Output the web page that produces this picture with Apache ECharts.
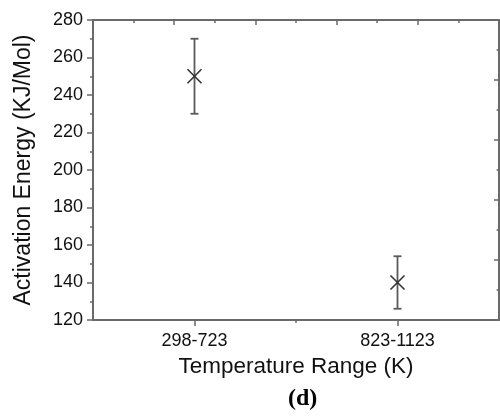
<!DOCTYPE html>
<html>
<head>
<meta charset="utf-8">
<script src="https://cdn.jsdelivr.net/npm/echarts@6/dist/echarts.min.js"></script>
<style>
html,body{margin:0;padding:0;background:#fff;}
#chart{width:500px;height:416px;}
</style>
</head>
<body>
<div id="chart"></div>
<script>
// ---- data ----
const categories = ['298-723', '823-1123'];
const energy = [250, 140];          // KJ/Mol
const errorHalf = [20, 14];         // +/- error
const yTicks = [120, 140, 160, 180, 200, 220, 240, 260, 280];

const axisGray = '#6a6a6a';
const textColor = '#111';
const fontFam = '"Liberation Sans", Arial, sans-serif';

const points = categories.map((c, i) => [i + 1, energy[i], energy[i] - errorHalf[i], energy[i] + errorHalf[i]]);

const chart = echarts.init(document.getElementById('chart'), null, {renderer: 'canvas'});
chart.setOption({
  animation: false,
  backgroundColor: '#fff',
  grid: {left: 93, top: 20, right: 1, bottom: 96, containLabel: false},
  xAxis: [
    {
      type: 'value', position: 'bottom', min: 0.5, max: categories.length + 0.5,
      name: 'Temperature Range (K)', nameLocation: 'middle', nameGap: 32,
      nameTextStyle: {fontFamily: fontFam, fontSize: 22.5, color: textColor},
      axisLine: {show: true, onZero: false, lineStyle: {color: axisGray, width: 2}},
      axisTick: {show: true, inside: false, length: 6, customValues: categories.map((c, i) => i + 1), lineStyle: {color: axisGray, width: 1.5}},
      axisLabel: {show: true, margin: 12, fontFamily: fontFam, fontSize: 18, color: textColor,
        customValues: categories.map((c, i) => i + 1),
        formatter: v => categories[Math.round(v) - 1] || ''},
      splitLine: {show: false}
    },
    {
      type: 'value', position: 'top', min: 0, max: 2, interval: 0.4,
      axisLine: {show: true, onZero: false, lineStyle: {color: axisGray, width: 2}},
      axisTick: {show: true, inside: true, length: 5, lineStyle: {color: axisGray, width: 1.5}},
      minorTick: {show: true, splitNumber: 2, length: 3, lineStyle: {color: axisGray, width: 1.5}},
      axisLabel: {show: false}, splitLine: {show: false}
    },
    {
      type: 'value', position: 'bottom', min: 0.5, max: categories.length + 0.5,
      axisLine: {show: false},
      axisTick: {show: true, inside: false, length: 3, customValues: [1.5], lineStyle: {color: axisGray, width: 1.5}},
      axisLabel: {show: false}, splitLine: {show: false}
    }
  ],
  yAxis: [
    {
      type: 'value', position: 'left', min: yTicks[0], max: yTicks[yTicks.length - 1], interval: 20,
      name: 'Activation Energy (KJ/Mol)', nameLocation: 'middle', nameGap: 58,
      nameTextStyle: {fontFamily: fontFam, fontSize: 23, color: textColor},
      axisLine: {show: true, onZero: false, lineStyle: {color: axisGray, width: 2}},
      axisTick: {show: true, inside: false, length: 6, lineStyle: {color: axisGray, width: 1.5}},
      minorTick: {show: true, splitNumber: 2, length: 3, lineStyle: {color: axisGray, width: 1.5}},
      axisLabel: {show: true, margin: 10, fontFamily: fontFam, fontSize: 18, color: textColor},
      splitLine: {show: false}
    },
    {
      type: 'value', position: 'right', min: 0, max: 10, interval: 2,
      axisLine: {show: true, onZero: false, lineStyle: {color: axisGray, width: 2}},
      axisTick: {show: true, inside: true, length: 5, lineStyle: {color: axisGray, width: 1.5}},
      minorTick: {show: true, splitNumber: 2, length: 2.5, lineStyle: {color: axisGray, width: 1.5}},
      axisLabel: {show: false}, splitLine: {show: false}
    }
  ],
  graphic: [{
    type: 'text', left: 288, top: 387,
    style: {text: '(d)', font: 'bold 24px "Liberation Serif", "Times New Roman", serif', fill: '#000'}
  }],
  series: [{
    type: 'custom',
    xAxisIndex: 0, yAxisIndex: 0,
    data: points,
    encode: {x: 0, y: [1, 2, 3]},
    renderItem: function (params, api) {
      const x = api.value(0);
      const c = api.coord([x, api.value(1)]);
      const lo = api.coord([x, api.value(2)]);
      const hi = api.coord([x, api.value(3)]);
      const cap = 4, s = 7;
      const barStyle = {stroke: '#5a5a5a', lineWidth: 1.8};
      const crossStyle = {stroke: '#333', lineWidth: 1.6};
      return {
        type: 'group',
        children: [
          {type: 'line', shape: {x1: c[0], y1: hi[1], x2: c[0], y2: lo[1]}, style: barStyle},
          {type: 'line', shape: {x1: c[0] - cap, y1: hi[1], x2: c[0] + cap, y2: hi[1]}, style: barStyle},
          {type: 'line', shape: {x1: c[0] - cap, y1: lo[1], x2: c[0] + cap, y2: lo[1]}, style: barStyle},
          {type: 'line', shape: {x1: c[0] - s, y1: c[1] - s, x2: c[0] + s, y2: c[1] + s}, style: crossStyle},
          {type: 'line', shape: {x1: c[0] - s, y1: c[1] + s, x2: c[0] + s, y2: c[1] - s}, style: crossStyle}
        ]
      };
    }
  }]
});
</script>
</body>
</html>
